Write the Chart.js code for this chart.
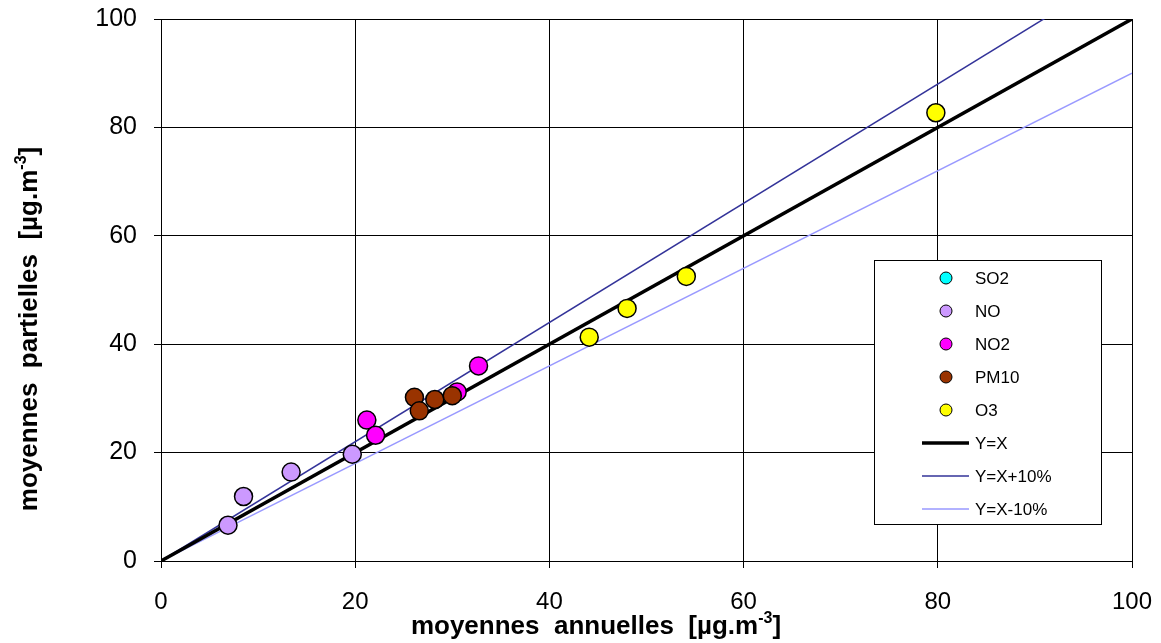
<!DOCTYPE html>
<html>
<head>
<meta charset="utf-8">
<title>moyennes partielles / moyennes annuelles</title>
<script src="https://cdn.jsdelivr.net/npm/chart.js@4.4.1/dist/chart.umd.min.js"></script>
<style>
  html, body { margin: 0; padding: 0; background: #fff; overflow: hidden; }
  canvas { display: block; }
</style>
</head>
<body>
<canvas id="chart" width="1161" height="643"></canvas>
<script>
// --- data ---
const xTicks = [0, 20, 40, 60, 80, 100];
const yTicks = [0, 20, 40, 60, 80, 100];

const so2X = [];
const so2Y = [];
const noX = [6.9, 8.5, 13.4, 19.7];
const noY = [6.6, 11.9, 16.4, 19.7];
const no2X = [21.2, 22.1, 30.5, 32.7];
const no2Y = [26.0, 23.2, 31.2, 36.0];
const pm10X = [26.1, 26.6, 28.2, 30.0];
const pm10Y = [30.2, 27.7, 29.8, 30.5];
const o3X = [44.1, 48.0, 54.1, 79.8];
const o3Y = [41.3, 46.6, 52.5, 82.7];

// reference lines y = k * x
const refNames = ["Y=X", "Y=X+10%", "Y=X-10%"];
const refFactors = [1, 1.1, 0.9];

const FONT = "'Liberation Sans', Arial, sans-serif";

function pts(xs, ys){ return xs.map((x, i) => ({ x, y: ys[i] })); }
function refLine(k){
  const x0 = xTicks[0], x1 = xTicks[xTicks.length - 1];
  return [{ x: x0, y: k * x0 }, { x: x1, y: k * x1 }];
}

// later series sit on top (lower order = drawn last)
function scatterSet(label, data, color, order){
  return {
    label, data, order,
    backgroundColor: color,
    borderColor: "#000",
    borderWidth: 1.5,
    pointRadius: 9,
    pointHoverRadius: 9,
    showLine: false
  };
}
function lineSet(label, data, color, width, order){
  return {
    label, data, order,
    borderColor: color,
    backgroundColor: color,
    borderWidth: width,
    pointRadius: 0,
    pointHoverRadius: 0,
    showLine: true,
    isLine: true
  };
}

const datasets = [
  scatterSet("SO2", pts(so2X, so2Y), "#00FFFF", 5),
  scatterSet("NO", pts(noX, noY), "#CC99FF", 4),
  scatterSet("NO2", pts(no2X, no2Y), "#FF00FF", 3),
  scatterSet("PM10", pts(pm10X, pm10Y), "#993300", 2),
  scatterSet("O3", pts(o3X, o3Y), "#FFFF00", 1),
  lineSet(refNames[0], refLine(refFactors[0]), "#000000", 3.5, 6),
  lineSet(refNames[1], refLine(refFactors[1]), "#333399", 1.5, 7),
  lineSet(refNames[2], refLine(refFactors[2]), "#9999FF", 1.5, 8)
];

// text with a superscript part: parts = [[text, isSup], ...]
function drawSupText(ctx, parts, cx, cy, size, rotate){
  const big = "bold " + size + "px " + FONT;
  const small = "bold " + Math.round(size * 0.62) + "px " + FONT;
  let total = 0;
  parts.forEach(p => { ctx.font = p[1] ? small : big; total += ctx.measureText(p[0]).width; });
  ctx.save();
  ctx.translate(cx, cy);
  if(rotate) ctx.rotate(-Math.PI / 2);
  ctx.fillStyle = "#000";
  ctx.textBaseline = "alphabetic";
  ctx.textAlign = "left";
  let x = -total / 2;
  const base = size * 0.36;
  parts.forEach(p => {
    ctx.font = p[1] ? small : big;
    ctx.fillText(p[0], x, p[1] ? base - size * 0.42 : base);
    x += ctx.measureText(p[0]).width;
  });
  ctx.restore();
}

const titlesPlugin = {
  id: "titles",
  afterDraw(chart){
    const ctx = chart.ctx;
    drawSupText(ctx, [["moyennes  annuelles  [µg.m", false], ["-3", true], ["]", false]], 596, 625, 26, false);
    drawSupText(ctx, [["moyennes  partielles  [µg.m", false], ["-3", true], ["]", false]], 28, 329, 26, true);
  }
};

// legend box inside the plot, drawn from the datasets
const legendPlugin = {
  id: "boxLegend",
  afterDraw(chart){
    const ctx = chart.ctx;
    const box = { l: 874, t: 260, r: 1101, b: 524 };
    ctx.save();
    ctx.fillStyle = "#fff";
    ctx.fillRect(box.l, box.t, box.r - box.l, box.b - box.t);
    ctx.strokeStyle = "#000";
    ctx.lineWidth = 1;
    ctx.strokeRect(box.l + 0.5, box.t + 0.5, box.r - box.l, box.b - box.t);
    ctx.font = "17px " + FONT;
    ctx.textBaseline = "middle";
    ctx.textAlign = "left";
    chart.data.datasets.forEach((ds, i) => {
      const y = 278 + i * 33;
      if(ds.isLine){
        ctx.strokeStyle = ds.borderColor;
        ctx.lineWidth = ds.borderWidth;
        ctx.beginPath();
        ctx.moveTo(922, y);
        ctx.lineTo(969, y);
        ctx.stroke();
      } else {
        ctx.beginPath();
        ctx.arc(946, y, 6, 0, Math.PI * 2);
        ctx.fillStyle = ds.backgroundColor;
        ctx.fill();
        ctx.strokeStyle = "#000";
        ctx.lineWidth = 1;
        ctx.stroke();
      }
      ctx.fillStyle = "#000";
      ctx.fillText(ds.label, 975, y + 1);
    });
    ctx.restore();
  }
};

new Chart(document.getElementById("chart"), {
  type: "scatter",
  data: { datasets },
  options: {
    responsive: false,
    animation: false,
    layout: { padding: { left: 0, top: 19, right: 29, bottom: 0 } },
    plugins: {
      legend: { display: false },
      tooltip: { enabled: false }
    },
    scales: {
      x: {
        type: "linear",
        min: xTicks[0],
        max: xTicks[xTicks.length - 1],
        afterFit: s => { s.height = 82; s.paddingLeft = 0; s.paddingRight = 0; },
        afterBuildTicks: s => { s.ticks = xTicks.map(v => ({ value: v })); },
        ticks: { color: "#000", padding: 20, font: { family: FONT, size: 24 } },
        grid: { color: "#000", lineWidth: 1, tickLength: 7, drawTicks: true },
        border: { display: true, color: "#000", width: 1 }
      },
      y: {
        type: "linear",
        min: yTicks[0],
        max: yTicks[yTicks.length - 1],
        afterFit: s => { s.width = 161; s.paddingTop = 0; s.paddingBottom = 0; },
        afterBuildTicks: s => { s.ticks = yTicks.map(v => ({ value: v })); },
        ticks: { color: "#000", padding: 17, font: { family: FONT, size: 25 } },
        grid: { color: "#000", lineWidth: 1, tickLength: 7, drawTicks: true },
        border: { display: true, color: "#000", width: 1 }
      }
    }
  },
  plugins: [titlesPlugin, legendPlugin]
});
</script>
</body>
</html>
